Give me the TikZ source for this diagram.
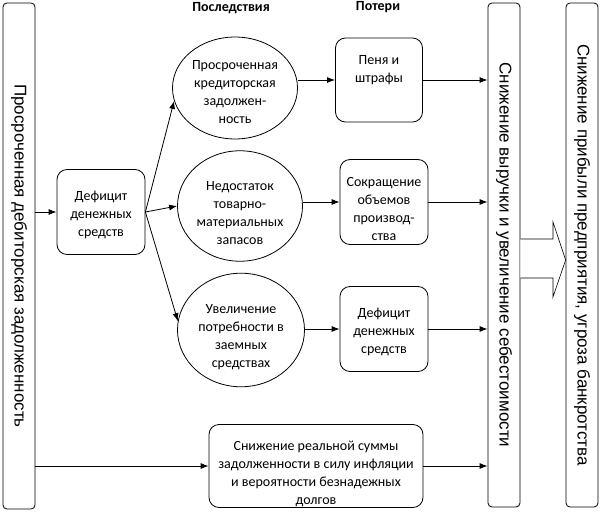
\documentclass[tikz,border=0pt]{standalone}
\usepackage{fontspec}
\setmainfont{Carlito}
\newfontfamily\barfont{Liberation Sans}
\usetikzlibrary{shapes.geometric, arrows.meta}
\newcommand{\lift}[1]{\rule{0pt}{#1}}
\begin{document}
\begin{tikzpicture}[x=1pt, y=-1pt, line width=0.8pt, >={Latex[length=8pt, width=6pt]},
    every node/.style={font=\fontsize{14}{18}\selectfont, align=center, inner sep=0pt},
    roundbox/.style={draw, rounded corners=10pt, minimum width=88pt, minimum height=85pt},
    oval/.style={draw, ellipse, minimum width=125pt, minimum height=100pt},
    bar/.style={draw, rounded corners=4pt, rotate=-90, minimum height=32pt,
      font=\barfont\fontsize{17}{18}\selectfont},
    title/.style={font=\bfseries\fontsize{14}{16}\selectfont}]
    \useasboundingbox (0,0) rectangle (600,514);

    % Bars
    \node[bar, minimum width=506pt] (debt) at (19,256) {Просроченная дебиторская задолженность};
    \node[bar, minimum width=504pt] (revenue) at (504,255) {Снижение выручки и увеличение себестоимости};
    \node[bar, minimum width=504pt] (profit) at (582,255) {Снижение прибыли предприятия, угроза банкротства};

    % Headers
    \node[title] (conseq) at (231,8) {Последствия};
    \node[title] (losses) at (378,7) {Потери};

    % Nodes
    \node[roundbox] (deficit) at (101,212) {\lift{16pt}Дефицит\\денежных\\средств};
    \node[oval] (credit) at (235,88) {\lift{18pt}Просроченная\\кредиторская\\задолжен-\\ность};
    \node[oval, minimum height=108pt] (stock) at (240,206) {\lift{24pt}Недостаток\\товарно-\\материальных\\запасов};
    \node[oval, minimum width=127pt, minimum height=108pt] (loans) at (241,330) {\lift{24pt}Увеличение\\потребности в\\заемных\\средствах};
    \node[roundbox, minimum width=87pt, minimum height=84pt] (fines) at (379,80) {Пеня и\\штрафы\\[4pt]};
    \node[roundbox] (output) at (384,202) {\lift{24pt}Сокращение\\объемов\\производ-\\ства};
    \node[roundbox] (cash) at (384,329) {\lift{16pt}Дефицит\\денежных\\средств};
    \node[roundbox, minimum width=214pt, minimum height=83pt] (inflation) at (316,466)
      {\lift{26pt}Снижение реальной суммы\\задолженности в силу инфляции\\и вероятности безнадежных\\долгов};

    % Arrows
    \draw[->] (debt.north |- deficit) -- (deficit);
    \draw[->] (debt.north |- inflation) -- (inflation);
    \draw[->] (deficit.east) -- (credit.192);
    \draw[->] (deficit.east) -- (stock.west);
    \draw[->] (deficit.east) -- (loans.172);
    \draw[->] (credit.east |- fines) -- (fines);
    \draw[->] (stock.east |- output) -- (output);
    \draw[->] (loans.east |- cash) -- (cash);
    \foreach \n in {fines, output, cash, inflation}
      \draw[->] (\n) -- (\n -| revenue.south);

    % Block arrow
    \draw[fill=white, line width=0.6pt] (revenue.north |- 0,239) -- (553,239) -- (553,222) -- (profit.south |- 0,260)
      -- (553,297) -- (553,278) -- (revenue.north |- 0,278);
\end{tikzpicture}
\end{document}
